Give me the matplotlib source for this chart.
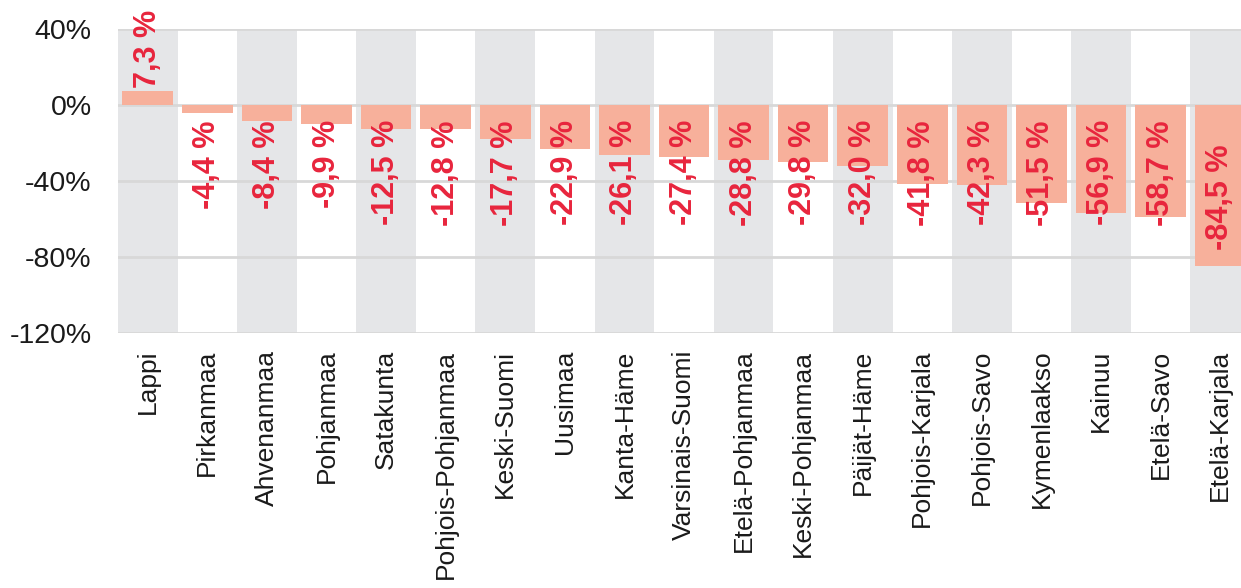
import matplotlib.pyplot as plt

regions = ["Lappi", "Pirkanmaa", "Ahvenanmaa", "Pohjanmaa", "Satakunta",
           "Pohjois-Pohjanmaa", "Keski-Suomi", "Uusimaa", "Kanta-Häme",
           "Varsinais-Suomi", "Etelä-Pohjanmaa", "Keski-Pohjanmaa",
           "Päijät-Häme", "Pohjois-Karjala", "Pohjois-Savo", "Kymenlaakso",
           "Kainuu", "Etelä-Savo", "Etelä-Karjala"]
change = [7.3, -4.4, -8.4, -9.9, -12.5, -12.8, -17.7, -22.9, -26.1, -27.4,
          -28.8, -29.8, -32.0, -41.8, -42.3, -51.5, -56.9, -58.7, -84.5]
yticks = [40, 0, -40, -80, -120]

plt.rcParams['font.family'] = ['Liberation Sans', 'DejaVu Sans']

fig = plt.figure(figsize=(12.41, 5.88), dpi=100)
ax = fig.add_axes([118 / 1241, 1 - 333 / 588, 1132 / 1241, 304 / 588])

x = range(len(regions))
for i in x:
    if i % 2 == 0:
        ax.axvspan(i - 0.5, i + 0.5, color='#e5e6e8', lw=0, zorder=0)
for t in yticks:
    ax.axhline(t, color='#d8d8d8', lw=2, zorder=1)

ax.bar(x, change, width=0.85, color='#f7b09b', zorder=2)

for i, v in zip(x, change):
    txt = ('%.1f %%' % v).replace('.', ',')
    if v >= 0:
        ax.text(i, v + 1.5, txt, rotation=90, ha='center', va='bottom',
                color='#e8253d', fontsize=22, fontweight='bold', zorder=3)
    elif v > -80:
        ax.text(i, -8, txt, rotation=90, ha='center', va='top',
                color='#e8253d', fontsize=22, fontweight='bold', zorder=3)
    else:
        ax.text(i, -21, txt, rotation=90, ha='center', va='top',
                color='#e8253d', fontsize=22, fontweight='bold', zorder=3)

ax.set_xlim(-0.5, len(regions) - 0.5)
ax.set_ylim(-120, 40)
ax.set_yticks(yticks)
ax.set_yticklabels(['%d%%' % t for t in yticks], fontsize=20.5, color='#1a1a1a')
ax.set_xticks(list(x))
ax.set_xticklabels(regions, rotation=90, fontsize=19, color='#1a1a1a')
ax.tick_params(axis='y', length=0, pad=19)
ax.tick_params(axis='x', length=0, pad=12)
for s in ax.spines.values():
    s.set_visible(False)

plt.savefig('out.png')
